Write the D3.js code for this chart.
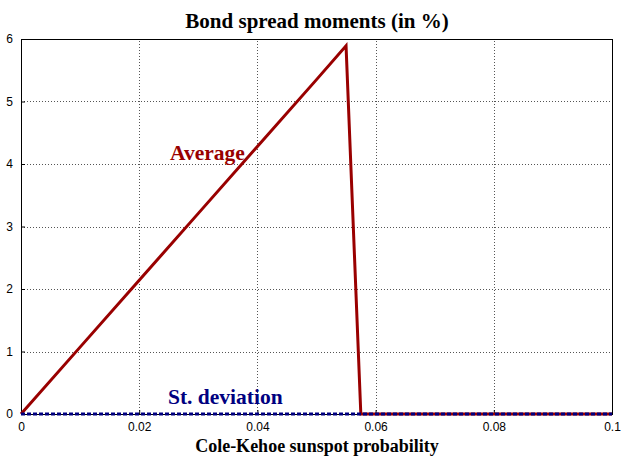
<!DOCTYPE html>
<html>
<head>
<meta charset="utf-8">
<script src="https://cdn.jsdelivr.net/npm/d3@7"></script>
<style>
  body { margin: 0; background: #fff; }
  svg { display: block; }
</style>
</head>
<body>
<svg id="chart" width="623" height="458"></svg>
<script>
// Sunspot probability grid and the resulting bond spread moments (in %)
const probability = [0, 0.01, 0.02, 0.03, 0.04, 0.05, 0.055, 0.0575, 0.06, 0.08, 0.1];
const averageSpread = [0, 1.07, 2.14, 3.21, 4.28, 5.35, 5.89, 0, 0, 0, 0];
const stDeviation = [0, 0, 0, 0, 0, 0, 0, 0, 0, 0, 0];
const xTicks = [0, 0.02, 0.04, 0.06, 0.08, 0.1];
const yTicks = [0, 1, 2, 3, 4, 5, 6];

const svg = d3.select("#chart");
const margin = { left: 21, right: 11, top: 39, bottom: 44 };
const W = 623, H = 458;

const x = d3.scaleLinear().domain([0, 0.1]).range([margin.left, W - margin.right]);
const y = d3.scaleLinear().domain([0, 6]).range([H - margin.bottom, margin.top]);

// dotted grid
const grid = svg.append("g").attr("stroke", "#555").attr("stroke-width", 1)
  .attr("stroke-dasharray", "1,2").attr("shape-rendering", "crispEdges");
grid.selectAll("line.v").data(xTicks.slice(1, -1)).join("line")
  .attr("x1", d => Math.round(x(d)) + 0.5).attr("x2", d => Math.round(x(d)) + 0.5)
  .attr("y1", y(0)).attr("y2", y(6));
grid.selectAll("line.h").data(yTicks.slice(1)).join("line")
  .attr("x1", x(0)).attr("x2", x(0.1))
  .attr("y1", d => Math.round(y(d)) + 0.5).attr("y2", d => Math.round(y(d)) + 0.5);

// frame
svg.append("rect")
  .attr("x", x(0) + 0.5).attr("y", y(6) + 0.5)
  .attr("width", x(0.1) - x(0)).attr("height", y(0) - y(6))
  .attr("fill", "none").attr("stroke", "#000").attr("stroke-width", 1.2)
  .attr("shape-rendering", "crispEdges");

// axes
const xAxis = d3.axisBottom(x).tickValues(xTicks).tickSize(-4).tickPadding(8)
  .tickFormat(d => d === 0 ? "0" : d3.format("~g")(d));
const yAxis = d3.axisLeft(y).tickValues(yTicks).tickSize(-4).tickPadding(8)
  .tickFormat(d3.format("d"));

const gx = svg.append("g").attr("transform", `translate(0,${y(0)})`).call(xAxis);
const gy = svg.append("g").attr("transform", `translate(${x(0)},0)`).call(yAxis);
[gx, gy].forEach(g => {
  g.select(".domain").remove();
  g.selectAll("text").attr("font-family", "Liberation Sans, Arial, sans-serif")
    .attr("font-size", 12).attr("fill", "#000");
  g.selectAll("line").attr("stroke", "#000");
});

// series
const line = d3.line().x(d => x(d[0])).y(d => y(d[1]));
svg.append("path")
  .datum(probability.map((p, i) => [p, averageSpread[i]]))
  .attr("d", line).attr("fill", "none")
  .attr("stroke", "#990000").attr("stroke-width", 3).attr("stroke-linejoin", "miter");
svg.append("path")
  .datum(probability.map((p, i) => [p, stDeviation[i]]))
  .attr("d", line).attr("fill", "none")
  .attr("stroke", "#000080").attr("stroke-width", 3).attr("stroke-dasharray", "4,2");

// series labels
svg.append("text").attr("x", 170).attr("y", 160).text("Average")
  .attr("font-family", "Liberation Serif, Times New Roman, serif")
  .attr("font-weight", "bold").attr("font-size", 21.5).attr("fill", "#990000");
svg.append("text").attr("x", 168).attr("y", 404).text("St. deviation")
  .attr("font-family", "Liberation Serif, Times New Roman, serif")
  .attr("font-weight", "bold").attr("font-size", 21.5).attr("fill", "#000080");

// titles
svg.append("text").attr("x", 317).attr("y", 28).attr("text-anchor", "middle")
  .text("Bond spread moments (in %)")
  .attr("font-family", "Liberation Serif, Times New Roman, serif")
  .attr("font-weight", "bold").attr("font-size", 21).attr("fill", "#000");
svg.append("text").attr("x", 317).attr("y", 452).attr("text-anchor", "middle")
  .text("Cole-Kehoe sunspot probability")
  .attr("font-family", "Liberation Serif, Times New Roman, serif")
  .attr("font-weight", "bold").attr("font-size", 18).attr("fill", "#000");
</script>
</body>
</html>
